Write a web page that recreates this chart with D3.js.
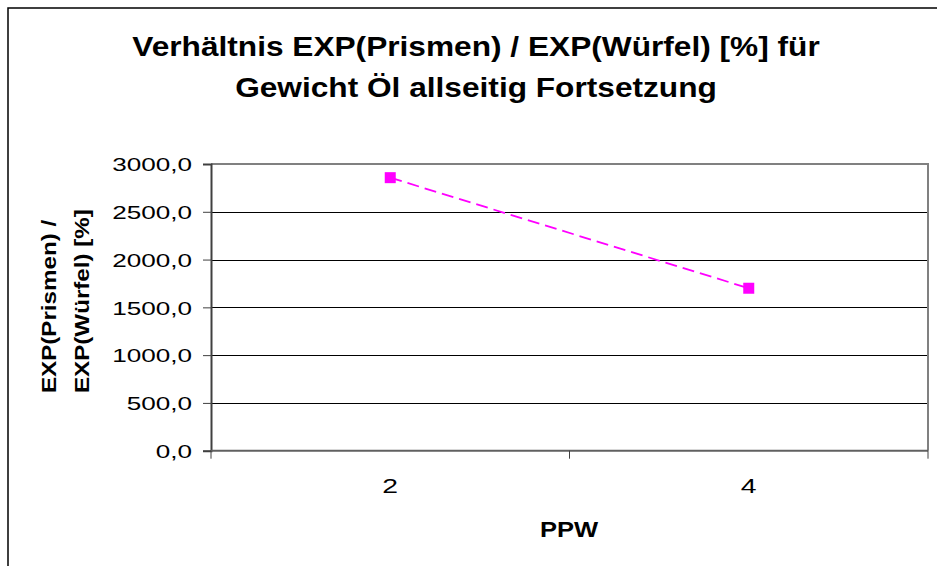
<!DOCTYPE html>
<html>
<head>
<meta charset="utf-8">
<script src="https://cdn.jsdelivr.net/npm/d3@7"></script>
<style>
  html, body { margin: 0; padding: 0; background: #fff; }
  svg { display: block; }
  text { font-family: "Liberation Sans", Arial, Helvetica, sans-serif; fill: #000; }
</style>
</head>
<body>
<svg id="chart" width="937" height="566"></svg>
<script>
// ---- data ----
const categories = ["2", "4"];
const seriesValues = [2857, 1700];
const yTickValues = [0, 500, 1000, 1500, 2000, 2500, 3000];
const titleLines = ["Verhältnis EXP(Prismen) / EXP(Würfel) [%] für", "Gewicht Öl allseitig Fortsetzung"];
const yTitleLines = ["EXP(Prismen) /", "EXP(Würfel) [%]"];
const xTitle = "PPW";

// ---- layout ----
const plot = { left: 211, right: 928, top: 164, bottom: 450.7 };
const svg = d3.select("#chart");

// outer chart border (extends beyond right/bottom edges)
svg.append("rect")
  .attr("x", 8).attr("y", 8).attr("width", 960).attr("height", 620)
  .attr("fill", "#fff").attr("stroke", "#000").attr("stroke-width", 1.5);

const x = d3.scaleBand().domain(categories).range([plot.left, plot.right]).padding(0);
const y = d3.scaleLinear().domain([0, 3000]).range([plot.bottom, plot.top]);

const locale = d3.formatLocale({ decimal: ",", thousands: "", grouping: [3], currency: ["", ""] });
const fmt = locale.format(".1f");

// helper: stretch text horizontally to match reference widths
function stretch(sel, k) {
  sel.each(function () {
    const len = this.getComputedTextLength();
    d3.select(this).attr("textLength", len * k).attr("lengthAdjust", "spacingAndGlyphs");
  });
}

// gridlines
svg.append("g")
  .selectAll("line")
  .data(yTickValues.filter(v => v > 0 && v < 3000))
  .join("line")
  .attr("x1", plot.left).attr("x2", plot.right)
  .attr("y1", d => Math.round(y(d)) + 0.5).attr("y2", d => Math.round(y(d)) + 0.5)
  .attr("stroke", "#000").attr("stroke-width", 1);

// plot area border (top & right gray)
svg.append("path")
  .attr("d", `M${plot.left},${plot.top}H${plot.right}V${plot.bottom}`)
  .attr("fill", "none").attr("stroke", "#808080").attr("stroke-width", 2);

// y axis
const yAxis = svg.append("g")
  .attr("transform", `translate(${plot.left},0)`)
  .call(d3.axisLeft(y).tickValues(yTickValues).tickFormat(fmt).tickSize(8).tickPadding(11));
yAxis.select(".domain").attr("stroke", "#404040").attr("stroke-width", 2);
yAxis.selectAll(".tick line").attr("stroke", "#404040").attr("stroke-width", 1);
yAxis.selectAll(".tick text")
  .attr("font-size", 19).attr("font-family", null).attr("dy", "0.35em");
stretch(yAxis.selectAll(".tick text"), 1.373);

// x axis (ticks at category boundaries)
const boundaries = [plot.left, plot.left + x.bandwidth(), plot.right];
const xAxis = svg.append("g")
  .attr("transform", `translate(0,${plot.bottom})`);
xAxis.append("line")
  .attr("x1", plot.left).attr("x2", plot.right).attr("y1", 0).attr("y2", 0)
  .attr("stroke", "#606060").attr("stroke-width", 2);
xAxis.selectAll("line.tk").data(boundaries).join("line").attr("class", "tk")
  .attr("x1", d => d).attr("x2", d => d).attr("y1", 0).attr("y2", 8)
  .attr("stroke", "#404040").attr("stroke-width", 1);
const xLabels = xAxis.selectAll("text").data(categories).join("text")
  .attr("x", d => x(d) + x.bandwidth() / 2)
  .attr("y", 42)
  .attr("text-anchor", "middle")
  .attr("font-size", 21)
  .text(d => d);
stretch(xLabels, 1.35);

// series line
const line = d3.line()
  .x((d, i) => x(categories[i]) + x.bandwidth() / 2)
  .y(d => y(d));
svg.append("path")
  .datum(seriesValues)
  .attr("d", line)
  .attr("fill", "none")
  .attr("stroke", "#FF00FF")
  .attr("stroke-width", 1.8)
  .attr("stroke-dasharray", "12,6");

// markers
const ms = 11;
svg.append("g").selectAll("rect")
  .data(seriesValues)
  .join("rect")
  .attr("x", (d, i) => x(categories[i]) + x.bandwidth() / 2 - ms / 2)
  .attr("y", d => y(d) - ms / 2)
  .attr("width", ms).attr("height", ms)
  .attr("fill", "#FF00FF");

// title
const title = svg.append("text")
  .attr("text-anchor", "middle")
  .attr("font-size", 28)
  .attr("font-weight", "bold");
title.selectAll("tspan").data(titleLines).join("tspan")
  .attr("x", 476)
  .attr("y", (d, i) => 56 + i * 40.7)
  .text(d => d);
title.selectAll("tspan").each(function () {
  const len = this.getComputedTextLength();
  d3.select(this).attr("textLength", len * 1.13).attr("lengthAdjust", "spacingAndGlyphs");
});

// y axis title (rotated)
const yt = svg.append("g").attr("transform", "translate(0,393) rotate(-90)");
const ytText = yt.selectAll("text").data(yTitleLines).join("text")
  .attr("x", 0)
  .attr("y", (d, i) => 56 + i * 33.3)
  .attr("text-anchor", "start")
  .attr("font-size", 21)
  .attr("font-weight", "bold")
  .text(d => d);
stretch(ytText, 1.15);

// x axis title
const xt = svg.append("text")
  .attr("x", 569).attr("y", 537.3)
  .attr("text-anchor", "middle")
  .attr("font-size", 22)
  .attr("font-weight", "bold")
  .text(xTitle);
stretch(xt, 1.16);
</script>
</body>
</html>
